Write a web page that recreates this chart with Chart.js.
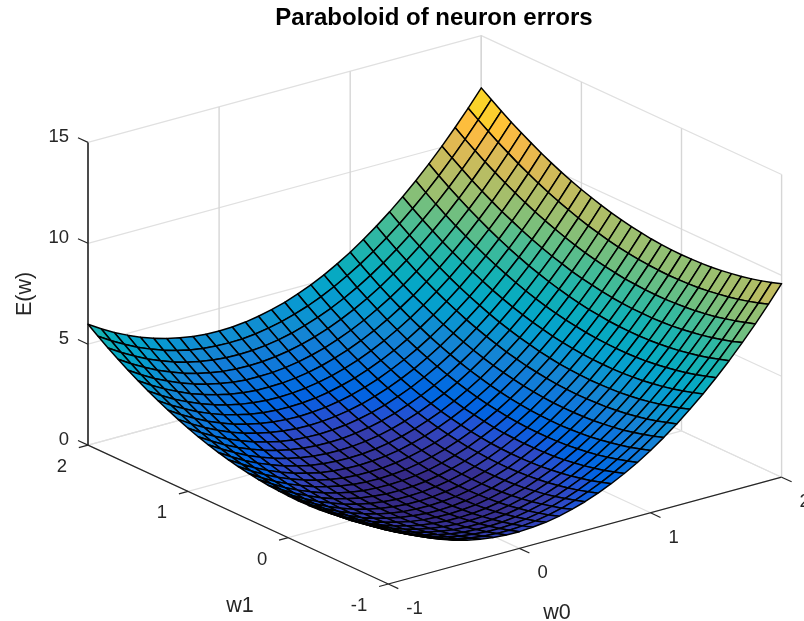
<!DOCTYPE html>
<html><head><meta charset="utf-8"><title>Paraboloid of neuron errors</title>
<style>html,body{margin:0;padding:0;background:#fff;overflow:hidden}canvas{display:block}</style>
<script src="https://cdn.jsdelivr.net/npm/chart.js@4"></script></head>
<body><canvas id="c" width="804" height="621"></canvas>
<script>
const w0Grid=[-1,-0.9,-0.8,-0.7,-0.6,-0.5,-0.4,-0.3,-0.2,-0.1,0,0.1,0.2,0.3,0.4,0.5,0.6,0.7,0.8,0.9,1,1.1,1.2,1.3,1.4,1.5,1.6,1.7,1.8,1.9,2];
const w1Grid=[-1,-0.9,-0.8,-0.7,-0.6,-0.5,-0.4,-0.3,-0.2,-0.1,0,0.1,0.2,0.3,0.4,0.5,0.6,0.7,0.8,0.9,1,1.1,1.2,1.3,1.4,1.5,1.6,1.7,1.8,1.9,2];
// E(w): one row per w0, one column per w1
const errorRows=[
[2.81,2.66,2.52,2.40,2.30,2.22,2.15,2.10,2.07,2.06,2.07,2.10,2.14,2.20,2.28,2.38,2.49,2.62,2.77,2.94,3.13,3.34,3.56,3.80,4.06,4.34,4.63,4.94,5.27,5.62,5.99],
[2.42,2.27,2.13,2.01,1.91,1.82,1.76,1.71,1.68,1.67,1.68,1.70,1.74,1.81,1.88,1.98,2.10,2.23,2.38,2.55,2.73,2.94,3.16,3.40,3.66,3.94,4.23,4.54,4.87,5.22,5.59],
[2.08,1.92,1.78,1.66,1.56,1.48,1.41,1.36,1.33,1.32,1.33,1.35,1.39,1.45,1.53,1.63,1.74,1.87,2.03,2.19,2.38,2.58,2.81,3.05,3.30,3.58,3.87,4.19,4.52,4.87,5.23],
[1.77,1.62,1.48,1.36,1.25,1.17,1.10,1.06,1.03,1.01,1.02,1.04,1.09,1.14,1.22,1.32,1.43,1.56,1.71,1.88,2.07,2.27,2.49,2.73,2.99,3.27,3.56,3.87,4.20,4.55,4.92],
[1.51,1.35,1.21,1.09,0.99,0.91,0.84,0.79,0.76,0.75,0.75,0.78,0.82,0.88,0.96,1.05,1.16,1.30,1.44,1.61,1.80,2.00,2.22,2.46,2.72,2.99,3.29,3.60,3.93,4.28,4.64],
[1.29,1.13,0.99,0.87,0.77,0.69,0.62,0.57,0.54,0.53,0.53,0.55,0.59,0.65,0.73,0.83,0.94,1.07,1.22,1.39,1.57,1.77,1.99,2.23,2.49,2.77,3.06,3.37,3.70,4.05,4.41],
[1.11,0.96,0.82,0.70,0.59,0.51,0.44,0.39,0.36,0.34,0.35,0.37,0.41,0.47,0.55,0.64,0.76,0.89,1.03,1.20,1.39,1.59,1.81,2.05,2.30,2.58,2.87,3.18,3.51,3.86,4.22],
[0.98,0.82,0.68,0.56,0.46,0.37,0.30,0.25,0.22,0.21,0.21,0.23,0.27,0.33,0.41,0.50,0.61,0.74,0.89,1.06,1.24,1.45,1.67,1.90,2.16,2.43,2.73,3.04,3.37,3.71,4.08],
[0.89,0.73,0.59,0.47,0.36,0.28,0.21,0.16,0.13,0.11,0.12,0.14,0.18,0.23,0.31,0.40,0.52,0.65,0.79,0.96,1.14,1.35,1.57,1.80,2.06,2.33,2.62,2.93,3.26,3.61,3.97],
[0.84,0.68,0.54,0.42,0.31,0.22,0.16,0.11,0.07,0.06,0.06,0.08,0.12,0.18,0.26,0.35,0.46,0.59,0.74,0.90,1.09,1.29,1.51,1.74,2.00,2.27,2.56,2.87,3.20,3.55,3.91],
[0.83,0.67,0.53,0.41,0.30,0.22,0.15,0.10,0.06,0.05,0.05,0.07,0.11,0.17,0.24,0.34,0.45,0.58,0.72,0.89,1.07,1.27,1.49,1.73,1.98,2.26,2.55,2.86,3.18,3.53,3.89],
[0.87,0.71,0.56,0.44,0.34,0.25,0.18,0.13,0.09,0.08,0.08,0.10,0.14,0.20,0.27,0.36,0.48,0.60,0.75,0.91,1.10,1.30,1.52,1.75,2.01,2.28,2.57,2.88,3.21,3.55,3.91],
[0.94,0.78,0.64,0.52,0.41,0.32,0.25,0.20,0.17,0.15,0.16,0.18,0.21,0.27,0.34,0.44,0.55,0.67,0.82,0.99,1.17,1.37,1.59,1.82,2.08,2.35,2.64,2.95,3.27,3.62,3.98],
[1.06,0.90,0.76,0.64,0.53,0.44,0.37,0.32,0.29,0.27,0.27,0.29,0.33,0.38,0.46,0.55,0.66,0.79,0.93,1.10,1.28,1.48,1.70,1.93,2.19,2.46,2.75,3.06,3.38,3.73,4.09],
[1.23,1.06,0.92,0.80,0.69,0.60,0.53,0.48,0.44,0.43,0.43,0.45,0.49,0.54,0.62,0.71,0.82,0.94,1.09,1.25,1.43,1.63,1.85,2.09,2.34,2.61,2.90,3.21,3.53,3.88,4.24],
[1.43,1.27,1.13,1.00,0.89,0.81,0.73,0.68,0.65,0.63,0.63,0.65,0.69,0.74,0.81,0.91,1.01,1.14,1.29,1.45,1.63,1.83,2.05,2.28,2.53,2.81,3.09,3.40,3.73,4.07,4.43],
[1.68,1.52,1.37,1.25,1.14,1.05,0.98,0.93,0.89,0.87,0.87,0.89,0.93,0.98,1.06,1.15,1.26,1.38,1.53,1.69,1.87,2.07,2.28,2.52,2.77,3.04,3.33,3.64,3.96,4.30,4.67],
[1.97,1.81,1.66,1.54,1.43,1.34,1.27,1.21,1.18,1.16,1.16,1.18,1.21,1.27,1.34,1.43,1.54,1.66,1.81,1.97,2.15,2.35,2.57,2.80,3.05,3.32,3.61,3.92,4.24,4.58,4.94],
[2.30,2.14,1.99,1.87,1.76,1.67,1.60,1.54,1.51,1.49,1.49,1.51,1.54,1.59,1.67,1.76,1.86,1.99,2.13,2.30,2.48,2.67,2.89,3.12,3.37,3.64,3.93,4.24,4.56,4.90,5.26],
[2.67,2.51,2.37,2.24,2.13,2.04,1.97,1.91,1.88,1.86,1.86,1.87,1.91,1.96,2.04,2.12,2.23,2.36,2.50,2.66,2.84,3.04,3.25,3.49,3.74,4.01,4.30,4.60,4.92,5.27,5.63],
[3.09,2.93,2.78,2.66,2.55,2.46,2.38,2.33,2.29,2.27,2.27,2.29,2.32,2.38,2.45,2.54,2.64,2.77,2.91,3.07,3.25,3.45,3.66,3.90,4.15,4.42,4.70,5.01,5.33,5.67,6.03],
[3.55,3.39,3.24,3.11,3.00,2.91,2.84,2.78,2.75,2.73,2.73,2.74,2.78,2.83,2.90,2.99,3.10,3.22,3.36,3.52,3.70,3.90,4.11,4.35,4.60,4.86,5.15,5.46,5.78,6.12,6.48],
[4.05,3.89,3.74,3.61,3.50,3.41,3.34,3.28,3.25,3.23,3.22,3.24,3.27,3.33,3.40,3.48,3.59,3.71,3.86,4.02,4.20,4.39,4.61,4.84,5.09,5.36,5.64,5.95,6.27,6.61,6.97],
[4.60,4.43,4.29,4.16,4.05,3.95,3.88,3.82,3.79,3.77,3.76,3.78,3.81,3.86,3.93,4.02,4.13,4.25,4.39,4.55,4.73,4.93,5.14,5.37,5.62,5.89,6.18,6.48,6.80,7.14,7.50],
[5.18,5.02,4.87,4.74,4.63,4.54,4.46,4.41,4.37,4.35,4.35,4.36,4.39,4.45,4.52,4.60,4.71,4.83,4.97,5.13,5.31,5.50,5.72,5.95,6.20,6.47,6.75,7.06,7.38,7.72,8.07],
[5.81,5.65,5.50,5.37,5.26,5.17,5.09,5.03,4.99,4.97,4.97,4.99,5.02,5.07,5.14,5.23,5.33,5.45,5.59,5.75,5.93,6.13,6.34,6.57,6.82,7.09,7.37,7.67,7.99,8.33,8.69],
[6.48,6.32,6.17,6.04,5.93,5.83,5.76,5.70,5.66,5.64,5.64,5.65,5.68,5.74,5.80,5.89,6.00,6.12,6.26,6.42,6.59,6.79,7.00,7.23,7.48,7.75,8.03,8.33,8.65,8.99,9.35],
[7.20,7.03,6.88,6.75,6.64,6.55,6.47,6.41,6.37,6.35,6.35,6.36,6.39,6.44,6.51,6.60,6.70,6.82,6.97,7.12,7.30,7.49,7.71,7.94,8.18,8.45,8.73,9.04,9.36,9.70,10.05],
[7.95,7.79,7.64,7.51,7.39,7.30,7.22,7.17,7.13,7.10,7.10,7.11,7.15,7.19,7.26,7.35,7.45,7.57,7.71,7.87,8.05,8.24,8.45,8.68,8.93,9.20,9.48,9.78,10.10,10.44,10.80],
[8.75,8.58,8.43,8.30,8.19,8.10,8.02,7.96,7.92,7.90,7.89,7.91,7.94,7.99,8.06,8.14,8.24,8.37,8.50,8.66,8.84,9.03,9.24,9.47,9.72,9.98,10.27,10.57,10.89,11.23,11.58],
[9.59,9.42,9.27,9.14,9.03,8.94,8.86,8.80,8.76,8.74,8.73,8.74,8.77,8.82,8.89,8.98,9.08,9.20,9.34,9.50,9.67,9.86,10.07,10.30,10.55,10.82,11.10,11.40,11.72,12.06,12.41]
];
const w0Ticks=[-1,0,1,2];
const w1Ticks=[-1,0,1,2];
const zTicks=[0,5,10,15];
const titleText="Paraboloid of neuron errors";
const parula=[[.2081,.1663,.5292],[.2116,.1898,.5777],[.2123,.2138,.627],[.2081,.2386,.6771],[.1959,.2645,.7279],[.1707,.2919,.7792],[.1253,.3242,.8303],[.0591,.3598,.8683],[.0117,.3875,.882],[.006,.4086,.8828],[.0165,.4266,.8786],[.0329,.443,.872],[.0498,.4586,.8641],[.0629,.4737,.8554],[.0723,.4887,.8467],[.0779,.504,.8384],[.0793,.52,.8312],[.0749,.5375,.8263],[.0641,.557,.824],[.0488,.5772,.8228],[.0343,.5966,.8199],[.0265,.6137,.8135],[.0239,.6287,.8038],[.0231,.6418,.7913],[.0228,.6535,.7768],[.0267,.6642,.7607],[.0384,.6743,.7436],[.059,.6838,.7254],[.0843,.6932,.7062],[.1133,.7018,.6859],[.1453,.7098,.6646],[.1801,.7177,.6424],[.2178,.725,.6193],[.2586,.7317,.5954],[.3022,.7376,.5712],[.3482,.7424,.5473],[.3953,.7459,.5244],[.442,.7481,.5033],[.4871,.7491,.484],[.53,.7491,.4661],[.5709,.7485,.4494],[.6099,.7473,.4337],[.6473,.7456,.4188],[.6834,.7435,.4044],[.7184,.7411,.3905],[.7525,.7384,.3768],[.7858,.7356,.3633],[.8185,.7327,.3498],[.8507,.7299,.336],[.8824,.7274,.3217],[.9139,.7258,.3063],[.945,.7261,.2886],[.9739,.7314,.2666],[.9938,.7455,.2403],[.999,.7653,.2164],[.9955,.7861,.1967],[.988,.8066,.1794],[.9789,.8271,.1633],[.9697,.8481,.1475],[.9626,.8705,.1309],[.9589,.8949,.1132],[.9598,.9218,.0948],[.9661,.9514,.0755],[.9763,.9831,.0538]];
// orthographic view of the 3-D box, expressed in the chart's x / y scale units
function project(w0,w1,z){
  return {x:388.3+(w0+1)*131.1-(w1+1)*100.1,
          y:584-(w0+1)*35.6-(w1+1)*46.3-z*20.18};
}
const flat=errorRows.flat();
const zMin=Math.min(...flat), zMax=Math.max(...flat);
function faceColor(v){
  const k=Math.min(63,Math.floor((v-zMin)/(zMax-zMin)*64));
  const c=parula[k];
  return `rgb(${Math.round(c[0]*255)},${Math.round(c[1]*255)},${Math.round(c[2]*255)})`;
}
const datasets=[];
function seg(points,color,width){
  datasets.push({data:points,showLine:true,fill:false,borderColor:color,borderWidth:width,pointRadius:0,tension:0,clip:false});
}
// surface: nearest faces first, since dataset 0 is painted last
for(let i=0;i<w0Grid.length-1;i++){
  for(let j=0;j<w1Grid.length-1;j++){
    const a=w0Grid[i],b=w0Grid[i+1],c=w1Grid[j],d=w1Grid[j+1];
    const p=project(a,c,errorRows[i][j]);
    datasets.push({
      data:[p,project(b,c,errorRows[i+1][j]),project(b,d,errorRows[i+1][j+1]),project(a,d,errorRows[i][j+1]),p],
      showLine:true,fill:'shape',backgroundColor:faceColor(errorRows[i][j]),borderColor:'#000',borderWidth:1.5,
      pointRadius:0,tension:0,clip:false,borderJoinStyle:'round'});
  }
}
const w0Lo=w0Ticks[0],w0Hi=w0Ticks[3],w1Lo=w1Ticks[0],w1Hi=w1Ticks[3],zLo=zTicks[0],zHi=zTicks[3];
const axisColor='#262626',gridColor='#e0e0e0',wallColor='#d6d6d6';
seg([project(w0Lo,w1Hi,zLo),project(w0Lo,w1Hi,zHi)],axisColor,1.6);
seg([project(w0Lo,w1Hi,zLo),project(w0Lo,w1Lo,zLo)],axisColor,1.2);
seg([project(w0Lo,w1Lo,zLo),project(w0Hi,w1Lo,zLo)],axisColor,1.2);
for(const z of zTicks) seg([project(w0Lo,w1Hi,z),project(w0Lo,w1Hi+0.1,z)],axisColor,1.2);
for(const t of w1Ticks) seg([project(w0Lo,t,zLo),project(w0Lo-0.07,t,zLo)],axisColor,1.2);
for(const t of w0Ticks) seg([project(t,w1Lo,zLo),project(t,w1Lo-0.1,zLo)],axisColor,1.2);
for(const t of w0Ticks){
  seg([project(t,w1Lo,zLo),project(t,w1Hi,zLo)],gridColor,1.2);
  seg([project(t,w1Hi,zLo),project(t,w1Hi,zHi)],wallColor,1.4);
}
for(const t of w1Ticks){
  seg([project(w0Lo,t,zLo),project(w0Hi,t,zLo)],gridColor,1.2);
  seg([project(w0Hi,t,zLo),project(w0Hi,t,zHi)],wallColor,1.4);
}
for(const z of zTicks){
  seg([project(w0Lo,w1Hi,z),project(w0Hi,w1Hi,z)],gridColor,1.2);
  seg([project(w0Hi,w1Hi,z),project(w0Hi,w1Lo,z)],gridColor,1.2);
}
const labelPlugin={id:'boxLabels',afterDraw(chart){
  const ctx=chart.ctx,sx=chart.scales.x,sy=chart.scales.y;
  const px=p=>({x:sx.getPixelForValue(p.x),y:sy.getPixelForValue(p.y)});
  ctx.save();
  ctx.fillStyle=axisColor;ctx.textBaseline='middle';
  ctx.font='18.5px "Liberation Sans", Arial, sans-serif';
  ctx.textAlign='right';
  for(const z of zTicks){const p=px(project(w0Lo,w1Hi,z));ctx.fillText(String(z),p.x-19,p.y-5);}
  for(const t of w1Ticks){const p=px(project(w0Lo,t,zLo));ctx.fillText(String(t),p.x-21,p.y+22);}
  ctx.textAlign='left';
  for(const t of w0Ticks){const p=px(project(t,w1Lo,zLo));ctx.fillText(String(t),p.x+18,p.y+25);}
  ctx.font='21.5px "Liberation Sans", Arial, sans-serif';
  ctx.textAlign='center';
  ctx.fillText('w1',240,606);
  ctx.fillText('w0',557,613);
  ctx.translate(25,294);ctx.rotate(-Math.PI/2);ctx.fillText('E(w)',0,0);
  ctx.restore();
}};
new Chart(document.getElementById('c'),{
  type:'scatter',
  data:{datasets},
  plugins:[labelPlugin],
  options:{
    responsive:false,animation:false,events:[],
    layout:{padding:{left:64,right:0,top:0,bottom:0}},
    plugins:{
      legend:{display:false},tooltip:{enabled:false},
      title:{display:true,text:titleText,fullSize:false,color:'#000',
        font:{family:'"Liberation Sans", Arial, sans-serif',size:24,weight:'bold',lineHeight:1},padding:{top:6,bottom:1}}
    },
    scales:{
      x:{type:'linear',display:false,min:64,max:804},
      y:{type:'linear',display:false,min:31,max:621,reverse:true}
    }
  }
});
</script></body></html>
